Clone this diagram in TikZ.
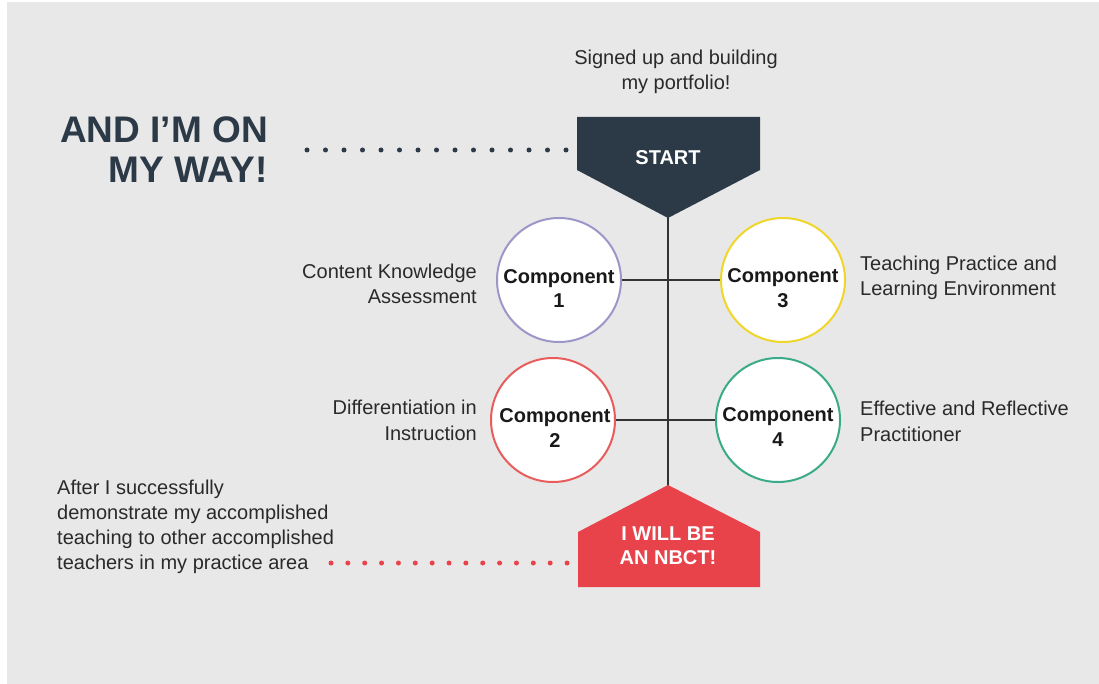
\documentclass[tikz,border=0pt]{standalone}
\usepackage{fontspec}
\setmainfont{Liberation Sans}
\definecolor{bg}{HTML}{E8E8E8}
\definecolor{navy}{HTML}{2C3A47}
\definecolor{nred}{HTML}{E8434A}
\definecolor{cpurple}{HTML}{9C97C9}
\definecolor{cyellow}{HTML}{F0D62B}
\definecolor{cred}{HTML}{E85C5C}
\definecolor{cgreen}{HTML}{3AAA88}
\definecolor{txt}{HTML}{2A2A2A}
\definecolor{linec}{HTML}{333333}
\tikzset{
  lbl/.style={text=txt, inner sep=0pt, font=\fontsize{20}{25.5}\selectfont},
  comp/.style={circle, minimum size=124pt, inner sep=0pt, fill=white, line width=2pt},
  comptext/.style={text=black!90, inner sep=0pt, align=center, anchor=base, font=\bfseries\fontsize{20}{24.5}\selectfont},
  conn/.style={draw=linec, line width=2pt},
  dots/.style={line width=5pt, line cap=round},
}
\begin{document}
\begin{tikzpicture}[x=1pt,y=-1pt]
\useasboundingbox (0,0) rectangle (1099,684);
\fill[white] (0,0) rectangle (1099,684);
\fill[bg] (7,2) rectangle (1099,684);

% coordinates
\coordinate (startpt) at (668,216);
\coordinate (nbctpt) at (668,487);
\coordinate (waydot) at (307,150);
\coordinate (startdot) at (568,150);
\coordinate (afterdot) at (331,563);
\coordinate (nbctdot) at (569,563);

% spine
\draw[conn] (startpt) -- (nbctpt);

% shapes
\fill[navy] (577,117) -- (760,117) -- (760,170) -- (668,218) -- (577,170) -- cycle;
\fill[nred] (668,485) -- (760,532) -- (760,587) -- (578,587) -- (578,532) -- cycle;

\node[white, inner sep=0pt, anchor=base, font=\bfseries\fontsize{20}{24}\selectfont] (start) at (668,165) {START};
\node[white, inner sep=0pt, anchor=base, align=center, font=\bfseries\fontsize{20}{24}\selectfont] (nbct) at (668,564) {I WILL BE\\AN NBCT!};

% circles
\node[comp, draw=cpurple] (c1) at (559,280) {};
\node[comp, draw=cyellow] (c3) at (783,280) {};
\node[comp, draw=cred] (c2) at (553,420) {};
\node[comp, draw=cgreen] (c4) at (778,420) {};
\draw[conn] (c1) -- (c3);
\draw[conn] (c2) -- (c4);

\node[comptext] (t1) at (559,308) {Component\\1};
\node[comptext] (t3) at (783,307) {Component\\3};
\node[comptext] (t2) at (555,447) {Component\\2};
\node[comptext] (t4) at (778,446) {Component\\4};

% labels
\node[lbl, anchor=base, align=center] (signed) at (676,90) {Signed up and building\\my portfolio!};
\node[text=navy, inner sep=0pt, anchor=base east, align=right, font=\bfseries\fontsize{37}{40}\selectfont] (way) at (268,183) {AND I’M ON\\MY WAY!};
\node[lbl, anchor=base east, align=right] (l1) at (477,304) {Content Knowledge\\Assessment};
\node[lbl, anchor=base west, align=left] (l3) at (860,296) {Teaching Practice and\\Learning Environment};
\node[lbl, anchor=base east, align=right] (l2) at (477,440) {Differentiation in\\Instruction};
\node[lbl, anchor=base west, align=left] (l4) at (860,441) {Effective and Reflective\\Practitioner};
\node[lbl, anchor=base west, align=left, font=\fontsize{20}{24.8}\selectfont] (after) at (57,569) {After I successfully\\demonstrate my accomplished\\teaching to other accomplished\\teachers in my practice area};

% dotted connectors
\draw[dots, draw=navy, dash pattern=on 0pt off 18.5pt] (waydot) -- (startdot);
\draw[dots, draw=nred, dash pattern=on 0pt off 16.86pt] (afterdot) -- (nbctdot);
\end{tikzpicture}
\end{document}
